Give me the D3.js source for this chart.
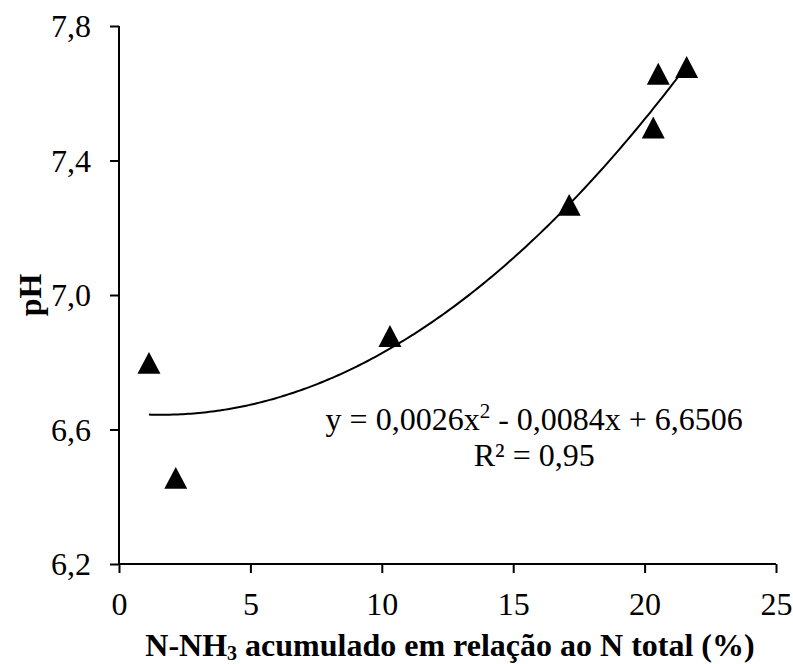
<!DOCTYPE html>
<html>
<head>
<meta charset="utf-8">
<script src="https://cdn.jsdelivr.net/npm/d3@7"></script>
<style>
  body { margin: 0; background: #fff; }
  text { font-family: "Liberation Serif", "Times New Roman", serif; fill: #000; }
</style>
</head>
<body>
<svg class="chart" width="793" height="664"></svg>
<script>
// measured points
var nh3 = [1.14, 2.16, 10.31, 17.13, 20.33, 20.52, 21.6];
var ph = [6.798, 6.456, 6.878, 7.268, 7.498, 7.658, 7.678];
var xTicks = [0, 5, 10, 15, 20, 25];
var yTicks = [6.2, 6.6, 7.0, 7.4, 7.8];
// trendline coefficients as printed on the chart (a x^2 + b x + c)
var coef = [0.0026, -0.0084, 6.6506];

var svg = d3.select(".chart"),
    margin = {top: 26, right: 17, bottom: 100, left: 119},
    width = 793 - margin.left - margin.right,
    height = 664 - margin.top - margin.bottom;

var x = d3.scaleLinear().domain([0, 25]).range([0, width]),
    y = d3.scaleLinear().domain([6.2, 7.8]).range([height, 0]);

var comma = function(d) { return d3.format(".1f")(d).replace(".", ","); };

var g = svg.append("g").attr("transform", "translate(" + margin.left + "," + margin.top + ")");

var xAxis = g.append("g")
    .attr("transform", "translate(0," + height + ")")
    .call(d3.axisBottom(x).tickValues(xTicks).tickSize(9).tickPadding(19).tickFormat(d3.format("d")));

var yAxis = g.append("g")
    .call(d3.axisLeft(y).tickValues(yTicks).tickSize(9).tickPadding(19).tickFormat(comma));

[xAxis, yAxis].forEach(function(a) {
  a.attr("font-family", null).attr("font-size", null);
  a.select(".domain").attr("stroke-width", 2);
  a.selectAll(".tick line").attr("stroke-width", 2);
  a.selectAll("text").style("font-size", "32px");
});
xAxis.select(".domain").attr("d", "M0,0H" + width);
yAxis.select(".domain").attr("d", "M0," + height + "V0");
yAxis.selectAll(".tick text").attr("dy", "0.33em");

// trendline over the data range
var xs = d3.range(nh3[0], d3.max(nh3) + 0.001, 0.1);
var line = d3.line()
    .x(function(d) { return x(d); })
    .y(function(d) { return y(coef[0] * d * d + coef[1] * d + coef[2]); });

g.append("path")
    .datum(xs)
    .attr("d", line)
    .attr("fill", "none")
    .attr("stroke", "#000")
    .attr("stroke-width", 2);

// triangle marker centred on its bounding box, like the spreadsheet marker
var tri = {
  draw: function(ctx, size) {
    var w = Math.sqrt(size), h = w * 0.95;
    ctx.moveTo(0, -h / 2);
    ctx.lineTo(w / 2, h / 2);
    ctx.lineTo(-w / 2, h / 2);
    ctx.closePath();
  }
};
g.append("g").selectAll("path")
  .data(nh3)
  .enter().append("path")
    .attr("transform", function(d, i) { return "translate(" + x(d) + "," + y(ph[i]) + ")"; })
    .attr("d", d3.symbol().type(tri).size(23 * 23))
    .attr("fill", "#000");

// equation
var eq = g.append("text")
    .attr("x", x(15.8))
    .attr("y", y(6.6))
    .attr("text-anchor", "middle")
    .style("font-size", "32px");
eq.append("tspan").text("y = 0,0026x");
eq.append("tspan").attr("dy", -12).style("font-size", "21px").text("2");
eq.append("tspan").attr("dy", 12).text(" - 0,0084x + 6,6506");

g.append("text")
    .attr("x", x(15.8))
    .attr("y", y(6.6) + 36)
    .attr("text-anchor", "middle")
    .style("font-size", "32px")
    .text("R² = 0,95");

// axis titles
var xl = svg.append("text")
    .attr("x", 450)
    .attr("y", 656)
    .attr("text-anchor", "middle")
    .style("font-size", "32px")
    .style("font-weight", "bold");
xl.append("tspan").text("N-NH");
xl.append("tspan").attr("dy", 4).style("font-size", "20px").text("3");
xl.append("tspan").attr("dy", -4).text(" acumulado em relação ao N total (%)");

svg.append("text")
    .attr("transform", "translate(41," + (margin.top + height / 2) + ") rotate(-90)")
    .attr("text-anchor", "middle")
    .style("font-size", "32px")
    .style("font-weight", "bold")
    .text("pH");
</script>
</body>
</html>
